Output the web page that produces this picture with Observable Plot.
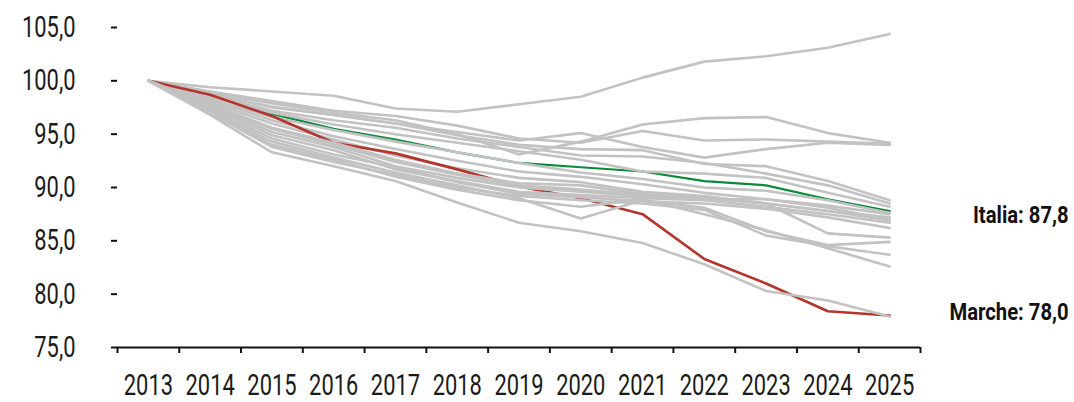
<!DOCTYPE html>
<html><head><meta charset="utf-8">
<script src="https://cdn.jsdelivr.net/npm/d3@7"></script>
<script src="https://cdn.jsdelivr.net/npm/@observablehq/plot@0.6"></script>
<style>
body{margin:0;background:#fff;}
</style></head><body><div id="chart"></div>
<script>
const years = [2013,2014,2015,2016,2017,2018,2019,2020,2021,2022,2023,2024,2025];
const yTicks = [75,80,85,90,95,100,105];

const italia = [100, 98.6, 96.9, 95.5, 94.5, 93.3, 92.3, 91.9, 91.5, 90.6, 90.2, 88.9, 87.8];
const marche = [100, 98.7, 96.7, 94.2, 93.2, 91.7, 90.1, 89.0, 87.5, 83.3, 81.0, 78.4, 78.0];

const grayBefore = [
  [100, 99.4, 99.0, 98.6, 97.4, 97.1, 97.8, 98.5, 100.3, 101.8, 102.3, 103.1, 104.4],
  [100, 98.9, 97.9, 97.0, 96.3, 95.0, 93.1, 94.3, 95.9, 96.5, 96.6, 95.1, 94.2],
  [100, 99.0, 98.1, 97.2, 96.7, 95.8, 94.6, 94.2, 95.3, 94.4, 94.5, 94.3, 94.1],
  [100, 98.7, 97.6, 96.8, 96.0, 95.2, 94.4, 95.1, 93.8, 92.8, 93.6, 94.2, 94.0],
  [100, 98.8, 97.5, 96.8, 96.0, 94.9, 94.0, 93.6, 93.5, 92.2, 92.0, 90.6, 88.8],
  [100, 98.6, 97.2, 96.3, 95.6, 94.6, 93.8, 93.0, 92.9, 92.3, 91.3, 90.2, 88.5],
  [100, 98.5, 97.0, 95.9, 95.0, 94.2, 93.4, 92.6, 91.5, 91.3, 90.9, 89.5, 88.2],
  [100, 98.3, 96.6, 95.4, 94.3, 93.3, 92.3, 91.4, 90.8, 90.0, 89.7, 88.8, 87.6],
  [100, 98.2, 96.3, 94.8, 93.6, 92.5, 91.5, 91.0, 90.3, 89.5, 88.9, 88.3, 87.5],
  [100, 98.0, 96.0, 94.5, 93.0, 91.8, 90.9, 90.5, 89.6, 89.2, 88.5, 87.8, 87.2]
];
const grayAfter = [
  [100, 97.8, 95.6, 94.2, 92.6, 91.3, 90.4, 90.2, 89.4, 88.9, 88.9, 88.1, 87.0],
  [100, 97.6, 95.2, 93.8, 92.0, 90.9, 90.0, 89.6, 89.2, 89.0, 88.5, 87.8, 86.9],
  [100, 97.5, 94.9, 93.5, 91.7, 90.6, 89.6, 89.3, 89.0, 88.8, 88.2, 87.5, 86.7],
  [100, 97.3, 94.6, 93.1, 91.9, 90.5, 89.4, 89.1, 88.7, 88.5, 88.0, 87.2, 86.2],
  [100, 97.7, 95.5, 94.0, 92.4, 91.2, 90.2, 89.8, 89.3, 89.1, 88.5, 85.7, 85.3],
  [100, 97.2, 94.3, 92.8, 91.4, 90.2, 89.0, 87.1, 88.8, 88.1, 85.9, 84.6, 84.9],
  [100, 97.0, 93.8, 92.4, 91.2, 90.0, 89.2, 88.8, 88.5, 87.9, 85.5, 84.5, 83.7],
  [100, 97.1, 94.0, 92.6, 91.0, 89.8, 88.8, 88.2, 88.9, 87.5, 86.0, 84.3, 82.6],
  [100, 96.8, 93.3, 92.0, 90.6, 88.6, 86.7, 85.9, 84.8, 82.8, 80.3, 79.4, 77.9]
];

const GRAY = "#c2c2c2", RED = "#b3352b", GREEN = "#0b8a3a";
const rows = [];
function add(name, vals, color, w) {
  vals.forEach((v, i) => rows.push({series: name, year: years[i], value: v, color, w}));
}
add("Italia", italia, GREEN, 2.2);
grayBefore.forEach((s, k) => add("g" + k, s, GRAY, 2.6));
add("Marche", marche, RED, 2.6);
grayAfter.forEach((s, k) => add("h" + k, s, GRAY, 2.6));

const boundaries = years.map(y => y - 0.5).concat([years[years.length - 1] + 0.5]);
const fmt = v => v.toFixed(1).replace(".", ",");
const lastYear = years[years.length - 1];
const italiaLabel = [{text: "Italia: " + fmt(italia[italia.length - 1]), year: lastYear, value: italia[italia.length - 1]}];
const marcheLabel = [{text: "Marche: " + fmt(marche[marche.length - 1]), year: lastYear, value: marche[marche.length - 1]}];
const FONT = 'Roboto, "DejaVu Sans Condensed", sans-serif';

const chart = Plot.plot({
  width: 1074, height: 402,
  marginLeft: 117, marginRight: 154, marginTop: 27, marginBottom: 55,
  style: {fontSize: "30px", fontFamily: FONT, background: "#fff", color: "#1a1a1a"},
  x: {domain: [boundaries[0], boundaries[boundaries.length - 1]]},
  y: {domain: [75, 105]},
  marks: [
    Plot.axisY({ticks: yTicks, tickFormat: fmt, tickSize: 6, tickPadding: 36, strokeWidth: 2, stroke: "#111", fill: "#1a1a1a", label: null, className: "cond"}),
    Plot.axisX({ticks: boundaries, tickFormat: () => "", tickSize: 6, strokeWidth: 2, stroke: "#111", label: null}),
    Plot.axisX({ticks: years, tickFormat: d => String(d), tickSize: 0, tickPadding: 26, fill: "#1a1a1a", label: null, className: "cond"}),
    Plot.ruleY([75], {stroke: "#111", strokeWidth: 2}),
    Plot.line(rows, {x: "year", y: "value", z: "series", stroke: "color", strokeWidth: "w", curve: "linear"}),
    Plot.text(italiaLabel, {x: "year", y: "value", text: "text", dy: 5, dx: 179, textAnchor: "end", fontWeight: "bold", fontSize: 23, fill: "#111", className: "bold"}),
    Plot.text(marcheLabel, {x: "year", y: "value", text: "text", dy: -3, dx: 179, textAnchor: "end", fontWeight: "bold", fontSize: 23, fill: "#111", className: "bold"})
  ]
});
// condensed look: squeeze text horizontally about each label's anchor
d3.select(chart).selectAll("g.cond text").each(function() {
  const t = this.getAttribute("transform") || "";
  this.setAttribute("transform", t + " scale(0.73,1)");
});
d3.select(chart).selectAll("g.bold text").each(function() {
  const t = this.getAttribute("transform") || "";
  this.setAttribute("transform", t + " scale(0.88,1)");
});
document.getElementById("chart").appendChild(chart);
</script></body></html>
